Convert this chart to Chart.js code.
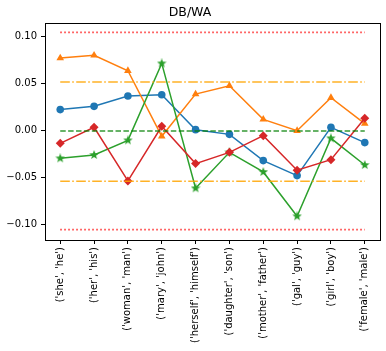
<!DOCTYPE html>
<html>
<head>
<meta charset="utf-8">
<script src="https://cdn.jsdelivr.net/npm/chart.js@4/dist/chart.umd.min.js"></script>
<style>
html,body{margin:0;padding:0;background:#fff;}
#wrap{width:386px;height:351px;position:relative;}
</style>
</head>
<body>
<div id="wrap"><canvas id="c" width="386" height="351"></canvas></div>
<script>
const titleText = 'DB/WA';
const categories = ["('she', 'he')", "('her', 'his')", "('woman', 'man')", "('mary', 'john')", "('herself', 'himself')", "('daughter', 'son')", "('mother', 'father')", "('gal', 'guy')", "('girl', 'boy')", "('female', 'male')"];
const blueSeries   = [0.0221, 0.0256, 0.0366, 0.0380, 0.0007, -0.0043, -0.0323, -0.0483, 0.0032, -0.0131];
const orangeSeries = [0.0771, 0.0800, 0.0636, -0.0064, 0.0387, 0.0476, 0.0117, -0.0004, 0.0348, 0.0071];
const greenSeries  = [-0.0299, -0.0263, -0.0107, 0.0714, -0.0618, -0.0235, -0.0444, -0.0917, -0.0085, -0.0370];
const redSeries    = [-0.0139, 0.0032, -0.0540, 0.0043, -0.0355, -0.0235, -0.0057, -0.0426, -0.0313, 0.0128];
const redBand    = [0.1045, -0.1059];
const orangeBand = [0.0515, -0.0544];
const zeroLine   = [-0.0007];
const yTicks = [-0.10, -0.05, 0.00, 0.05, 0.10];
const yTickLabels = ['\u22120.10', '\u22120.05', '0.00', '0.05', '0.10'];

function toPts(arr){ return arr.map((v,i)=>({x:i,y:v})); }
function flatLine(v){ return categories.map((_,i)=>({x:i,y:v})); }

function starCanvas(color, size){
  const c = document.createElement('canvas');
  c.width = size; c.height = size;
  const g = c.getContext('2d');
  const cx = size/2, cy = size/2, R = size/2, r = R*0.42;
  g.beginPath();
  for(let k=0;k<10;k++){
    const rad = k%2===0 ? R : r;
    const a = -Math.PI/2 + k*Math.PI/5;
    const px = cx + rad*Math.cos(a), py = cy + rad*Math.sin(a);
    if(k===0) g.moveTo(px,py); else g.lineTo(px,py);
  }
  g.closePath();
  g.fillStyle = color; g.fill();
  return c;
}

const C_BLUE='#1f77b4', C_ORANGE='#ff7f0e', C_GREEN='#2ca02c', C_RED='#d62728';
const FONT = 'DejaVu Sans';

function series(data, color, style, radius, order){
  return {data: toPts(data), borderColor: color, backgroundColor: color, borderWidth: 1.5,
    pointStyle: style, pointRadius: radius, pointBorderWidth: 0, pointBackgroundColor: color,
    pointBorderColor: color, tension: 0, fill: false, order: order};
}
function hline(v, color, dash, order){
  return {data: flatLine(v), borderColor: color, borderWidth: 1.6, borderDash: dash,
    pointRadius: 0, fill: false, tension: 0, order: order, borderCapStyle: 'butt'};
}

const datasets = [
  series(blueSeries, C_BLUE, 'circle', 3.8, 5),
  series(orangeSeries, C_ORANGE, 'triangle', 4.4, 4),
  series(greenSeries, C_GREEN, starCanvas(C_GREEN, 10), 5, 3),
  series(redSeries, C_RED, 'rectRot', 4.5, 2),
];
redBand.forEach(v=>datasets.push(hline(v, 'rgba(255,20,20,0.8)', [1.6,2.4], 1)));
orangeBand.forEach(v=>datasets.push(hline(v, 'rgba(255,165,0,0.85)', [9.6,2.4,1.6,2.4], 1)));
zeroLine.forEach(v=>datasets.push(hline(v, 'rgba(0,128,0,0.8)', [5.5,2.4], 1)));

const frame = {
  id:'frame',
  afterDraw(chart){
    const a = chart.chartArea, g = chart.ctx;
    g.save(); g.strokeStyle='#000'; g.lineWidth=1;
    g.strokeRect(Math.round(a.left)+0.5, Math.round(a.top)+0.5, Math.round(a.right-a.left), Math.round(a.bottom-a.top));
    g.restore();
  }
};

new Chart(document.getElementById('c'), {
  type: 'line',
  data: {datasets},
  plugins: [frame],
  options: {
    responsive: false, animation: false, events: [],
    layout: {padding: {left: 0, right: 6, top: 0, bottom: 0}},
    plugins: {
      legend: {display: false}, tooltip: {enabled: false},
      title: {display: true, text: titleText, color: '#000', font: {family: FONT, size: 12.5, weight: 'normal'}, padding: {top: 5, bottom: 3}}
    },
    scales: {
      x: {
        type: 'linear', min: -0.45, max: 9.45,
        afterBuildTicks(s){ s.ticks = categories.map((_,i)=>({value:i})); },
        afterFit(s){ s.height = 111; },
        grid: {drawOnChartArea: false, drawTicks: true, tickLength: 4, color: '#000'},
        border: {display: false},
        ticks: {autoSkip: false, minRotation: 90, maxRotation: 90, padding: 3, color: '#000',
          font: {family: FONT, size: 10}, callback: (v)=>categories[v]}
      },
      y: {
        min: -0.1170, max: 0.1145,
        afterBuildTicks(s){ s.ticks = yTicks.map(v=>({value:v})); },
        afterFit(s){ s.width = 45; },
        grid: {drawOnChartArea: false, drawTicks: true, tickLength: 4, color: '#000'},
        border: {display: false},
        ticks: {padding: 4, color: '#000', font: {family: FONT, size: 10},
          callback: (v)=>{ const i = yTicks.findIndex(t=>Math.abs(t-v)<1e-9); return i>=0 ? yTickLabels[i] : ''; }}
      }
    }
  }
});
</script>
</body>
</html>
